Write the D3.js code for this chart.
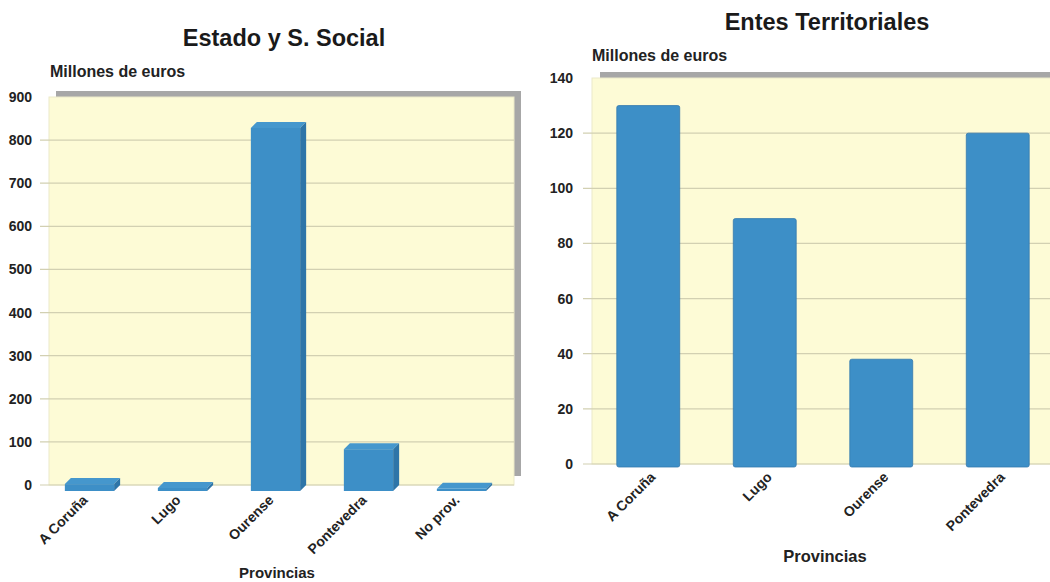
<!DOCTYPE html>
<html>
<head>
<meta charset="utf-8">
<script src="https://cdn.jsdelivr.net/npm/d3@7"></script>
<style>
	body { margin: 0; background: #fff; }
	svg { display: block; font-family: 'Liberation Sans', Arial, sans-serif; }
	.tick-label { font-family: 'Liberation Sans Narrow', 'Liberation Sans', Arial, sans-serif; font-weight: bold; font-size: 14px; fill: #222; }
</style>
</head>
<body>
<script>
const width = 1050
const height = 582

// Estado y S. Social
const provinciasEstado = ['A Coruña', 'Lugo', 'Ourense', 'Pontevedra', 'No prov.']
const valoresEstado = [16, 7, 842, 97, 5]
const ticksEstado = [0, 100, 200, 300, 400, 500, 600, 700, 800, 900]

// Entes Territoriales
const provinciasEntes = ['A Coruña', 'Lugo', 'Ourense', 'Pontevedra']
const valoresEntes = [130, 89, 38, 120]
const ticksEntes = [0, 20, 40, 60, 80, 100, 120, 140]

const barColor = '#3d8fc7'
const barTop = '#4597cd'
const barSide = '#2e75a8'
const plotFill = '#fdfbd6'
const gridColor = '#d2d0b2'
const shadowColor = '#a7a7a7'

const svg = d3.select('body')
	.append('svg')
	.attr('width', width)
	.attr('height', height)

const drawFrame = (g, box, yScale, ticks, labelX) => {
	// gray shadow behind the plot area
	g.append('rect')
		.attr('x', box.x0 + box.sx)
		.attr('y', box.y0 - box.sy)
		.attr('width', box.x1 - box.x0)
		.attr('height', box.y1 - box.y0 - 3)
		.attr('fill', shadowColor)

	g.append('rect')
		.attr('x', box.x0)
		.attr('y', box.y0)
		.attr('width', box.x1 - box.x0)
		.attr('height', box.y1 - box.y0)
		.attr('fill', plotFill)
		.attr('stroke', '#ebe9c9')
		.attr('stroke-width', 1)

	g.selectAll(null)
		.data(ticks.filter(t => t !== ticks[ticks.length - 1]))
		.enter()
		.append('line')
		.attr('x1', box.x0 - 9)
		.attr('x2', box.x1)
		.attr('y1', d => yScale(d))
		.attr('y2', d => yScale(d))
		.attr('stroke', gridColor)
		.attr('stroke-width', 1.2)

	g.selectAll(null)
		.data(ticks)
		.enter()
		.append('text')
		.attr('class', 'tick-label')
		.attr('x', labelX)
		.attr('y', d => yScale(d))
		.attr('dy', '0.36em')
		.attr('text-anchor', 'end')
		.text(d => d)
}

const drawCategoryLabels = (g, cats, xScale, dx, y) => {
	g.selectAll(null)
		.data(cats)
		.enter()
		.append('text')
		.attr('class', 'tick-label')
		.attr('text-anchor', 'end')
		.attr('transform', d => `translate(${xScale(d) + xScale.bandwidth() / 2 + dx},${y}) rotate(-45)`)
		.text(d => d)
}

// ---------- left chart ----------
const left = { x0: 49, x1: 514, y0: 97, y1: 485, sx: 7, sy: 6 }
const depth = 6

const yLeft = d3.scaleLinear()
	.domain([0, 900])
	.range([left.y1, left.y0])

const xLeft = d3.scaleBand()
	.domain(provinciasEstado)
	.range([46, 511])
	.paddingInner(0.47)
	.paddingOuter(0.235)

const gL = svg.append('g')
drawFrame(gL, left, yLeft, ticksEstado, 32)

const barsL = gL.selectAll('.bar3d')
	.data(provinciasEstado.map((p, i) => ({ p, v: valoresEstado[i] })))
	.enter()
	.append('g')
	.attr('class', 'bar3d')

// front face
barsL.append('rect')
	.attr('x', d => xLeft(d.p) - depth / 2)
	.attr('y', d => yLeft(d.v) + depth)
	.attr('width', xLeft.bandwidth())
	.attr('height', d => yLeft(0) - yLeft(d.v))
	.attr('fill', barColor)

// top face
barsL.append('path')
	.attr('d', d => {
		const x = xLeft(d.p) - depth / 2
		const y = yLeft(d.v) + depth
		const w = xLeft.bandwidth()
		return `M${x},${y}L${x + depth},${y - depth}L${x + w + depth},${y - depth}L${x + w},${y}Z`
	})
	.attr('fill', barTop)

// side face
barsL.append('path')
	.attr('d', d => {
		const x = xLeft(d.p) - depth / 2 + xLeft.bandwidth()
		const y = yLeft(d.v) + depth
		const yb = yLeft(0) + depth
		return `M${x},${y}L${x + depth},${y - depth}L${x + depth},${yb - depth}L${x},${yb}Z`
	})
	.attr('fill', barSide)

drawCategoryLabels(gL, provinciasEstado, xLeft, -4, 501)

gL.append('text')
	.attr('x', 284)
	.attr('y', 46)
	.attr('text-anchor', 'middle')
	.attr('font-weight', 'bold')
	.attr('font-size', 23.5)
	.attr('fill', '#1a1a1a')
	.text('Estado y S. Social')

gL.append('text')
	.attr('x', 50)
	.attr('y', 77)
	.attr('font-weight', 'bold')
	.attr('font-size', 16)
	.attr('fill', '#222')
	.text('Millones de euros')

gL.append('text')
	.attr('x', 277)
	.attr('y', 578)
	.attr('text-anchor', 'middle')
	.attr('font-weight', 'bold')
	.attr('font-size', 15)
	.attr('fill', '#222')
	.text('Provincias')

// ---------- right chart ----------
const right = { x0: 592, x1: 1062, y0: 78, y1: 464, sx: 8, sy: 6 }

const yRight = d3.scaleLinear()
	.domain([0, 140])
	.range([right.y1, right.y0])

const xRight = d3.scaleBand()
	.domain(provinciasEntes)
	.range([590, 1056])
	.paddingInner(0.46)
	.paddingOuter(0.23)

const gR = svg.append('g')
drawFrame(gR, right, yRight, ticksEntes, 573)

gR.selectAll('.bar')
	.data(provinciasEntes.map((p, i) => ({ p, v: valoresEntes[i] })))
	.enter()
	.append('rect')
	.attr('class', 'bar')
	.attr('x', d => xRight(d.p))
	.attr('y', d => yRight(d.v))
	.attr('width', xRight.bandwidth())
	.attr('height', d => yRight(0) - yRight(d.v) + 3)
	.attr('rx', 2)
	.attr('fill', barColor)
	.attr('stroke', '#3479ad')
	.attr('stroke-width', 0.8)

drawCategoryLabels(gR, provinciasEntes, xRight, 8, 478)

gR.append('text')
	.attr('x', 827)
	.attr('y', 30)
	.attr('text-anchor', 'middle')
	.attr('font-weight', 'bold')
	.attr('font-size', 23.5)
	.attr('fill', '#1a1a1a')
	.text('Entes Territoriales')

gR.append('text')
	.attr('x', 592)
	.attr('y', 61)
	.attr('font-weight', 'bold')
	.attr('font-size', 16)
	.attr('fill', '#222')
	.text('Millones de euros')

gR.append('text')
	.attr('x', 825)
	.attr('y', 562)
	.attr('text-anchor', 'middle')
	.attr('font-weight', 'bold')
	.attr('font-size', 16.5)
	.attr('fill', '#222')
	.text('Provincias')
</script>
</body>
</html>
